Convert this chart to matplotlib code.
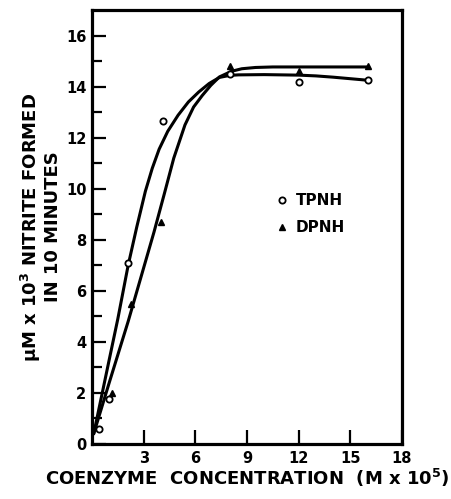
import matplotlib.pyplot as plt

# measured points
tpnh_x = [0.4, 1.0, 2.1, 4.1, 8.0, 12.0, 16.0]
tpnh_y = [0.6, 1.75, 7.1, 12.65, 14.5, 14.2, 14.25]
dpnh_x = [1.15, 2.25, 4.0, 8.0, 12.0, 16.0]
dpnh_y = [2.0, 5.5, 8.7, 14.8, 14.6, 14.8]

# hand-drawn curves
tpnh_cx = [0.1, 1.0, 1.5, 2.1, 2.6, 3.1, 3.5, 3.9, 4.4, 5.0, 5.6, 6.2, 6.8, 7.4, 8.0, 8.5, 10.0, 12.0, 13.0, 14.0, 15.0, 16.0]
tpnh_cy = [0.4, 3.3, 4.9, 7.0, 8.5, 9.9, 10.8, 11.55, 12.25, 12.88, 13.4, 13.79, 14.12, 14.36, 14.44, 14.46, 14.47, 14.45, 14.42, 14.37, 14.31, 14.25]
dpnh_cx = [0.1, 1.0, 2.1, 3.0, 3.6, 4.2, 4.75, 5.4, 5.9, 6.4, 6.9, 7.4, 8.1, 8.7, 9.5, 10.5, 12.0, 14.0, 16.0]
dpnh_cy = [0.4, 2.4, 4.8, 6.9, 8.3, 9.8, 11.2, 12.5, 13.2, 13.65, 14.05, 14.38, 14.6, 14.7, 14.75, 14.77, 14.77, 14.77, 14.77]

xticks = [3, 6, 9, 12, 15, 18]
yticks = [0, 2, 4, 6, 8, 10, 12, 14, 16]
yminor = [1, 3, 5, 7, 9, 11, 13, 15]

plt.rcParams['font.family'] = 'DejaVu Sans'
plt.rcParams['font.weight'] = 'bold'

fig = plt.figure(figsize=(4.52, 4.99), dpi=100)
ax = fig.add_axes([0.2035, 0.1102, 0.6858, 0.8697])

ax.plot(tpnh_cx, tpnh_cy, color='black', lw=2.2, solid_capstyle='round')
ax.plot(dpnh_cx, dpnh_cy, color='black', lw=2.2, solid_capstyle='round')
ax.plot(tpnh_x, tpnh_y, ls='none', marker='o', ms=4.5, mfc='white', mec='black', mew=1.3, label='TPNH')
ax.plot(dpnh_x, dpnh_y, ls='none', marker='^', ms=5, mfc='black', mec='black', label='DPNH')

ax.set_xlim(0, 18)
ax.set_ylim(0, 17)
ax.set_xticks(xticks)
ax.set_yticks(yticks)
ax.set_yticks(yminor, minor=True)
ax.tick_params(direction='in', length=10, width=1.6, labelsize=10.5, pad=4)
ax.tick_params(axis='y', which='minor', direction='in', length=7, width=1.6)
ax.tick_params(axis='x', pad=5)
for s in ax.spines.values():
    s.set_linewidth(2.3)

ax.set_xlabel('COENZYME  CONCENTRATION  (M x 10$^5$)', fontsize=13, fontweight='bold', labelpad=1)
ax.set_ylabel('\u03bcM x 10$^3$ NITRITE FORMED\nIN 10 MINUTES', fontsize=13, fontweight='bold', labelpad=3, linespacing=1.05)

ax.legend(loc='upper left', bbox_to_anchor=(0.555, 0.61), frameon=False, fontsize=11,
          handlelength=0.6, handletextpad=0.6, labelspacing=0.8, markerscale=1.0)

fig.savefig('out.png', dpi=100)
